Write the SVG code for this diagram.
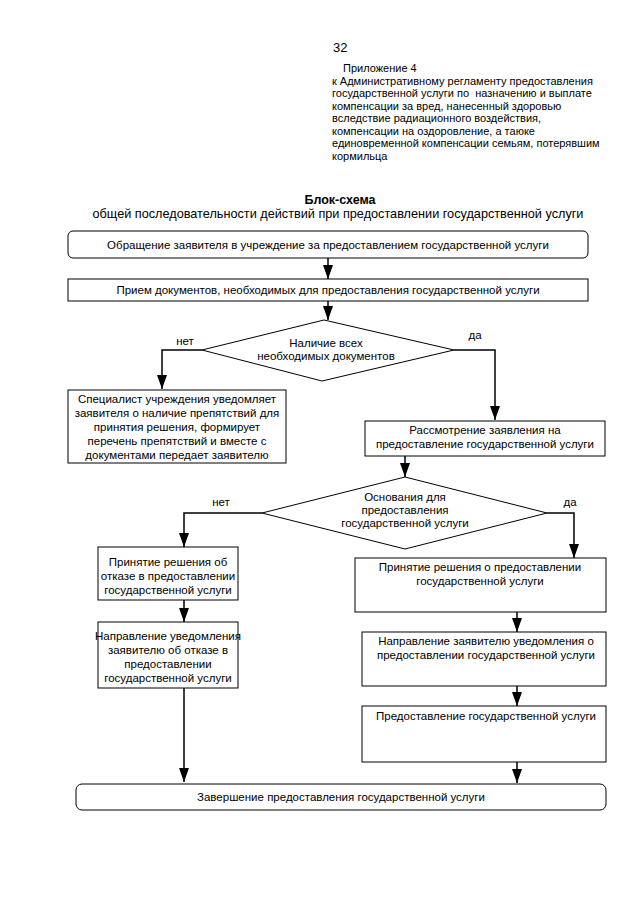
<svg xmlns="http://www.w3.org/2000/svg" width="640" height="905" viewBox="0 0 640 905">
<style>
text{font-family:"Liberation Sans",Arial,sans-serif;fill:#000;}
.h{font-size:11px;}
.t{font-size:11.5px;text-anchor:middle;}
.box{fill:#fff;stroke:#000;stroke-width:1;}
.ln{fill:none;stroke:#000;stroke-width:1.5;}
</style>
<defs>
<marker id="ah" markerWidth="14" markerHeight="10" refX="14" refY="5" orient="auto" markerUnits="userSpaceOnUse" viewBox="0 0 14 10">
<path d="M0,0 L14,5 L0,10 Z" fill="#000"/>
</marker>
</defs>
<rect width="640" height="905" fill="#fff"/>
<g id="header">
<text x="333" y="52" style="font-size:13px">32</text>
<text class="h" x="343" y="72">Приложение 4</text>
<text class="h" x="332" y="84.5">к Административному регламенту предоставления</text>
<text class="h" x="332" y="97" style="white-space:pre">государственной услуги по  назначению и выплате</text>
<text class="h" x="332" y="109.5">компенсации за вред, нанесенный здоровью</text>
<text class="h" x="332" y="122">вследствие радиационного воздействия,</text>
<text class="h" x="332" y="134.5">компенсации на оздоровление, а таюке</text>
<text class="h" x="332" y="147">единовременной компенсации семьям, потерявшим</text>
<text class="h" x="332" y="159.5">кормильца</text>
<text x="340" y="204" style="font-size:12.5px;font-weight:bold;text-anchor:middle">Блок-схема</text>
<text x="338" y="218" style="font-size:12.7px;text-anchor:middle">общей последовательности действий при предоставлении государственной услуги</text>
</g>
<g id="connectors">
<line class="ln" x1="328" y1="258" x2="328" y2="279" marker-end="url(#ah)"/>
<line class="ln" x1="328" y1="301" x2="328" y2="320" marker-end="url(#ah)"/>
<polyline class="ln" points="202,350 162,350 162,389" marker-end="url(#ah)"/>
<polyline class="ln" points="454,350 495,350 495,420" marker-end="url(#ah)"/>
<line class="ln" x1="405" y1="456" x2="405" y2="477" marker-end="url(#ah)"/>
<polyline class="ln" points="262,513 184,513 184,547" marker-end="url(#ah)"/>
<polyline class="ln" points="547,513 574,513 574,558" marker-end="url(#ah)"/>
<line class="ln" x1="184" y1="600" x2="184" y2="622" marker-end="url(#ah)"/>
<line class="ln" x1="517" y1="612" x2="517" y2="632" marker-end="url(#ah)"/>
<line class="ln" x1="517" y1="686" x2="517" y2="706" marker-end="url(#ah)"/>
<line class="ln" x1="184" y1="688" x2="184" y2="782" marker-end="url(#ah)"/>
<line class="ln" x1="517" y1="762" x2="517" y2="783" marker-end="url(#ah)"/>
<text x="185" y="345" style="font-size:11.5px;text-anchor:middle">нет</text>
<text x="475" y="339" style="font-size:11.5px;text-anchor:middle">да</text>
<text x="221" y="506" style="font-size:11.5px;text-anchor:middle">нет</text>
<text x="570" y="506" style="font-size:11.5px;text-anchor:middle">да</text>
</g>
<g id="start">
<rect class="box" x="68" y="231" width="520" height="27" rx="5"/>
<text class="t" x="328" y="249">Обращение заявителя в учреждение за предоставлением государственной услуги</text>
</g>
<g id="receive">
<rect class="box" x="68" y="279" width="520" height="22"/>
<text class="t" x="328" y="294">Прием документов, необходимых для предоставления государственной услуги</text>
</g>
<g id="decision1">
<polygon class="box" points="324,320 454,350 322,381 202,350"/>
<text class="t" x="326" y="347">Наличие всех</text>
<text class="t" x="326" y="360">необходимых документов</text>
</g>
<g id="notify-obstacles">
<rect class="box" x="68" y="390" width="218" height="73"/>
<text class="t" x="177" y="403">Специалист учреждения уведомляет</text>
<text class="t" x="177" y="417">заявителя о наличие препятствий для</text>
<text class="t" x="177" y="431">принятия решения, формирует</text>
<text class="t" x="177" y="445">перечень препятствий и вместе с</text>
<text class="t" x="177" y="459">документами передает заявителю</text>
</g>
<g id="review">
<rect class="box" x="365" y="421" width="240" height="35"/>
<text class="t" x="485" y="434">Рассмотрение заявления на</text>
<text class="t" x="485" y="448">предоставление государственной услуги</text>
</g>
<g id="decision2">
<polygon class="box" points="405,477 547,513 405,549 262,513"/>
<text class="t" x="405" y="501">Основания для</text>
<text class="t" x="405" y="514">предоставления</text>
<text class="t" x="405" y="527">государственной услуги</text>
</g>
<g id="refuse">
<rect class="box" x="98" y="547" width="140" height="53"/>
<text class="t" x="168" y="566">Принятие решения об</text>
<text class="t" x="168" y="580">отказе в предоставлении</text>
<text class="t" x="168" y="594">государственной услуги</text>
</g>
<g id="refuse-notice">
<rect class="box" x="98" y="622" width="140" height="66"/>
<text class="t" x="168" y="640">Направление уведомления</text>
<text class="t" x="168" y="654">заявителю об отказе в</text>
<text class="t" x="168" y="668">предоставлении</text>
<text class="t" x="168" y="682">государственной услуги</text>
</g>
<g id="grant">
<rect class="box" x="355" y="558" width="251" height="54"/>
<text class="t" x="480" y="571">Принятие решения о предоставлении</text>
<text class="t" x="480" y="585">государственной услуги</text>
</g>
<g id="grant-notice">
<rect class="box" x="362" y="632" width="244" height="54"/>
<text class="t" x="486" y="645">Направление заявителю уведомления о</text>
<text class="t" x="486" y="659">предоставлении государственной услуги</text>
</g>
<g id="provide">
<rect class="box" x="362" y="706" width="244" height="56"/>
<text class="t" x="486" y="720">Предоставление государственной услуги</text>
</g>
<g id="end">
<rect class="box" x="76" y="784" width="530" height="26" rx="6"/>
<text class="t" x="341" y="801">Завершение предоставления государственной услуги</text>
</g>
</svg>
